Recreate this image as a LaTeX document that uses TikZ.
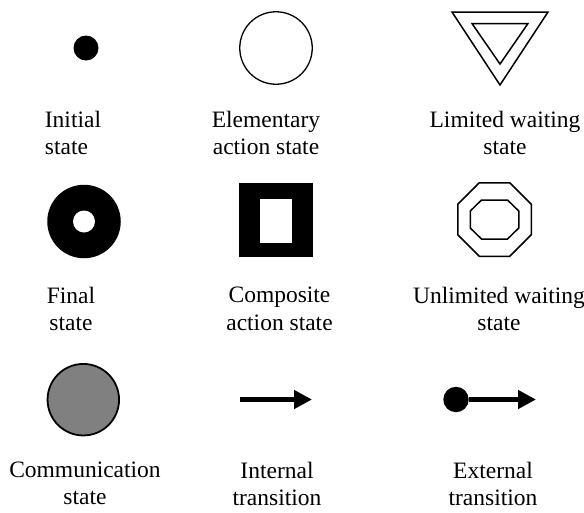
\documentclass[tikz,border=0pt]{standalone}
\usepackage{fontspec}
\setmainfont{Liberation Serif}
\usetikzlibrary{arrows.meta}

\begin{document}
\begin{tikzpicture}[x=1pt, y=-1pt, >={Triangle[length=18pt, width=18pt]},
  every caption/.style={font=\fontsize{23.5}{27.4}\selectfont, align=center, anchor=north, inner sep=0pt}]

\useasboundingbox (0,0) rectangle (584,512);

% first row
\node [circle, fill, inner sep=0pt, minimum size=25pt] (initial) at (86,48) {};
\node [circle, draw, line width=1.3pt, inner sep=0pt, minimum size=72.5pt] (elementary) at (276,48) {};
\draw [line width=1.5pt] (452,12) -- (548,12) -- (500,85) -- cycle;
\draw [line width=1.5pt] (472,23.5) -- (528,23.5) -- (500,64) -- cycle;

% second row
\node [circle, fill, inner sep=0pt, minimum size=73.5pt] (final) at (84,221.5) {};
\node [circle, fill=white, inner sep=0pt, minimum size=22pt] (final-in) at (final) {};
\node [fill, inner sep=0pt, minimum size=74pt] (composite) at (276,220.3) {};
\node [fill=white, inner sep=0pt, minimum width=32.3pt, minimum height=43.4pt] (composite-in) at (276.2,221) {};
\draw [line width=1.5pt, shift={(494.5,219.5)}] (-15.2,-36.75) -- (15.2,-36.75) -- (36.75,-15.2) -- (36.75,15.2)
  -- (15.2,36.75) -- (-15.2,36.75) -- (-36.75,15.2) -- (-36.75,-15.2) -- cycle;
\draw [line width=1.5pt, shift={(494.5,219.5)}] (-13,-19.5) -- (13,-19.5) -- (24.25,-8.5) -- (24.25,8.5)
  -- (13,19.5) -- (-13,19.5) -- (-24.25,8.5) -- (-24.25,-8.5) -- cycle;

% third row
\node [circle, draw, fill=gray, line width=1.8pt, inner sep=0pt, minimum size=71.5pt] (communication) at (83.3,399.7) {};
\coordinate (internal-start) at (240,399.5);
\coordinate (internal-end) at (312,399.5);
\draw [->, line width=5.5pt] (internal-start) -- (internal-end);
\node [circle, fill, inner sep=0pt, minimum size=25.4pt] (external-dot) at (456,399.5) {};
\coordinate (external-end) at (536,399.5);
\draw [->, line width=5pt] (external-dot) -- (external-end);

% captions
\node [every caption, align=left, anchor=north west] (caption-0) at (44.7,110.7) {Initial\\state};
\foreach \x/\y/\t [count=\i] in {266/110.7/{Elementary\\action state}, 505/110.7/{Limited waiting\\state},
    71/287/{Final\\state}, 279.5/287/{Composite\\action state}, 499/287/{Unlimited waiting\\state},
    85/461.5/{Communication\\state}, 277/461.5/{Internal\\transition}, 493/461.5/{External\\transition}}
  \node [every caption] (caption-\i) at (\x,\y) {\t};

\end{tikzpicture}
\end{document}
